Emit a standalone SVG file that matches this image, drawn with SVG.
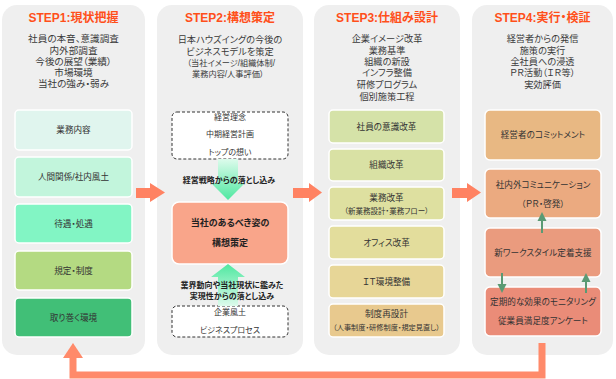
<svg xmlns="http://www.w3.org/2000/svg" width="616" height="379" viewBox="0 0 616 379">
<style>
text{font-family:"Liberation Sans","Noto Sans CJK JP",sans-serif;font-feature-settings:"palt";text-anchor:middle;fill:#333}
.title{font-size:12px;font-weight:bold;fill:#FF4F1A}
.body{font-size:9.2px;fill:#3a3a3a}
.bx{font-size:8.6px;fill:#333}
.bold{font-weight:bold;fill:#222}
.panel{fill:#EFEFEF}
.box{stroke:#fff;stroke-width:1.5}
.dash{fill:#fff;stroke:#333;stroke-width:1;stroke-dasharray:3 2}
.big{fill:#FF8262}
.garr{stroke:#5A9A74;stroke-width:2;fill:none}
</style>
<defs>
<linearGradient id="gdown" x1="0" y1="0" x2="0" y2="1">
<stop offset="0" stop-color="#DDFBEC"/>
<stop offset="1" stop-color="#4FE8A0"/>
</linearGradient>
<linearGradient id="gup" x1="0" y1="0" x2="0" y2="1">
<stop offset="0" stop-color="#4FE8A0"/>
<stop offset="1" stop-color="#DDFBEC"/>
</linearGradient>
<marker id="gh" markerUnits="userSpaceOnUse" markerWidth="10" markerHeight="10" refX="5" refY="5" orient="auto">
<path d="M0,0.5 L9,5 L0,9.5 Z" fill="#5A9A74"/>
</marker>
</defs>

<g id="step1">
<rect class="panel" x="2" y="5" width="143" height="350" rx="15"/>
<text class="title" x="73.5" y="22">STEP1:現状把握</text>
<text class="body" style="font-size:9.6px"><tspan x="73.5" y="42">社員の本音、意識調査</tspan><tspan x="73.5" y="54">内外部調査</tspan><tspan x="73.5" y="65">今後の展望（業績）</tspan><tspan x="73.5" y="76">市場環境</tspan><tspan x="73.5" y="87">当社の強み・弱み</tspan></text>
<g id="s1b1"><rect class="box" x="15" y="110" width="117" height="40" rx="4" fill="#E0F5EE"/><text class="bx" x="73.5" y="133">業務内容</text></g>
<g id="s1b2"><rect class="box" x="15" y="157" width="117" height="40" rx="4" fill="#C2F5DC"/><text class="bx" x="73.5" y="180">人間関係/社内風土</text></g>
<g id="s1b3"><rect class="box" x="15" y="204" width="117" height="39" rx="4" fill="#82F5C4"/><text class="bx" x="73.5" y="227">待遇・処遇</text></g>
<g id="s1b4"><rect class="box" x="15" y="251" width="117" height="39" rx="4" fill="#B4DA82"/><text class="bx" x="73.5" y="274">規定・制度</text></g>
<g id="s1b5"><rect class="box" x="15" y="298" width="117" height="39" rx="4" fill="#41BF77"/><text class="bx" x="73.5" y="321">取り巻く環境</text></g>
</g>

<g id="step2">
<rect class="panel" x="157" y="5" width="146" height="350" rx="15"/>
<text class="title" x="230" y="22">STEP2:構想策定</text>
<text class="body"><tspan x="230" y="43">日本ハウズイングの今後の</tspan><tspan x="230" y="55">ビジネスモデルを策定</tspan><tspan x="231" y="66" style="font-size:8.2px">（当社イメージ/組織体制/</tspan><tspan x="228" y="77" style="font-size:8.2px">業務内容/人事評価）</tspan></text>
<g id="s2top"><rect class="dash" x="172" y="112" width="116" height="47" rx="5"/>
<text class="bx" style="font-size:8px"><tspan x="230" y="120">経営理念</tspan><tspan x="230" y="137">中期経営計画</tspan><tspan x="230" y="155">トップの想い</tspan></text></g>
<g id="s2core"><rect class="box" x="172" y="202" width="116" height="62" rx="7" fill="#F9A58A"/>
<text class="bx bold" style="font-size:9px"><tspan x="230" y="226">当社のあるべき姿の</tspan><tspan x="230" y="246">構想策定</tspan></text></g>
<g id="s2bot"><rect class="dash" x="172" y="306" width="116" height="31" rx="5"/>
<text class="bx" style="font-size:8px"><tspan x="230" y="315">企業風土</tspan><tspan x="230" y="333">ビジネスプロセス</tspan></text></g>
</g>

<g id="step3">
<rect class="panel" x="314" y="5" width="146" height="350" rx="15"/>
<text class="title" x="387" y="22">STEP3:仕組み設計</text>
<text class="body"><tspan x="387" y="42">企業イメージ改革</tspan><tspan x="387" y="54">業務基準</tspan><tspan x="387" y="65">組織の新設</tspan><tspan x="387" y="76">インフラ整備</tspan><tspan x="387" y="88">研修プログラム</tspan><tspan x="387" y="100">個別施策工程</tspan></text>
<g id="s3b1"><rect class="box" x="329" y="110" width="115" height="33" rx="4" fill="#D5E2A8"/><text class="bx" x="386.5" y="129.5">社員の意識改革</text></g>
<g id="s3b2"><rect class="box" x="329" y="149" width="115" height="32" rx="4" fill="#D9E1A4"/><text class="bx" x="386.5" y="168">組織改革</text></g>
<g id="s3b3"><rect class="box" x="329" y="187" width="115" height="33" rx="4" fill="#DEE0A0"/><text class="bx"><tspan x="386.5" y="201">業務改革</tspan><tspan x="386.5" y="214" style="font-size:7.5px">（新業務設計・業務フロー）</tspan></text></g>
<g id="s3b4"><rect class="box" x="329" y="226" width="115" height="33" rx="4" fill="#E3DD9C"/><text class="bx" x="386.5" y="245.5">オフィス改革</text></g>
<g id="s3b5"><rect class="box" x="329" y="265" width="115" height="33" rx="4" fill="#E7D697"/><text class="bx" x="386.5" y="284.5">ＩＴ環境整備</text></g>
<g id="s3b6"><rect class="box" x="329" y="304" width="115" height="33" rx="4" fill="#E8C98E"/><text class="bx"><tspan x="386.5" y="317">制度再設計</tspan><tspan x="386.5" y="330" style="font-size:7.2px">（人事制度・研修制度・規定見直し）</tspan></text></g>
</g>

<g id="step4">
<rect class="panel" x="472" y="5" width="141" height="350" rx="15"/>
<text class="title" x="542.5" y="22">STEP4:実行・検証</text>
<text class="body"><tspan x="542.5" y="42">経営者からの発信</tspan><tspan x="542.5" y="54">施策の実行</tspan><tspan x="542.5" y="65">全社員への浸透</tspan><tspan x="542.5" y="76">ＰＲ活動（ＩＲ等）</tspan><tspan x="542.5" y="88">実効評価</tspan></text>
<g id="s4b1"><rect class="box" x="485" y="110" width="116" height="50" rx="5" fill="#E8B883"/><text class="bx" x="543" y="138">経営者のコミットメント</text></g>
<g id="s4b2"><rect class="box" x="485" y="169" width="116" height="49" rx="5" fill="#EBAA80"/><text class="bx"><tspan x="543" y="188">社内外コミュニケーション</tspan><tspan x="543" y="207">（ＰＲ・啓発）</tspan></text></g>
<g id="s4b3"><rect class="box" x="485" y="228" width="116" height="49" rx="5" fill="#EA9B7E"/><text class="bx" x="543" y="256">新ワークスタイル定着支援</text></g>
<g id="s4b4"><rect class="box" x="485" y="287" width="116" height="49" rx="5" fill="#EA8C78"/><text class="bx"><tspan x="543" y="305">定期的な効果のモニタリング</tspan><tspan x="543" y="324">従業員満足度アンケート</tspan></text></g>
</g>

<g id="connectors">
<polygon class="big" points="136,188 150,188 150,183 165,192.5 150,202 150,198 136,198"/>
<polygon class="big" points="293,188 309,188 309,183 322,192.5 309,202 309,198 293,198"/>
<polygon class="big" points="452,188 467,188 467,183 481,192.5 467,202 467,198 452,198"/>
<polygon fill="url(#gdown)" points="218,159 238,159 238,183 245,183 228,200 211,183 218,183"/>
<polygon fill="url(#gup)" points="228,264 245,277 238,277 238,306 218,306 218,277 211,277"/>
<text class="bx bold" x="229" y="183" style="font-size:8px">経営戦略からの落とし込み</text>
<text class="bx bold" style="font-size:8px"><tspan x="232" y="288">業界動向や当社現状に鑑みた</tspan><tspan x="232" y="299">実現性からの落とし込み</tspan></text>
<line class="garr" x1="542" y1="233" x2="542" y2="216" marker-end="url(#gh)"/>
<line class="garr" x1="502" y1="273" x2="502" y2="289" marker-end="url(#gh)"/>
<line class="garr" x1="586" y1="293" x2="586" y2="277" marker-end="url(#gh)"/>
<path d="M542,343 V375 H73 V357" fill="none" stroke="#FF8A6A" stroke-width="7"/>
<polygon fill="#FF8A6A" points="63,358 73,343 83,358"/>
</g>
</svg>
